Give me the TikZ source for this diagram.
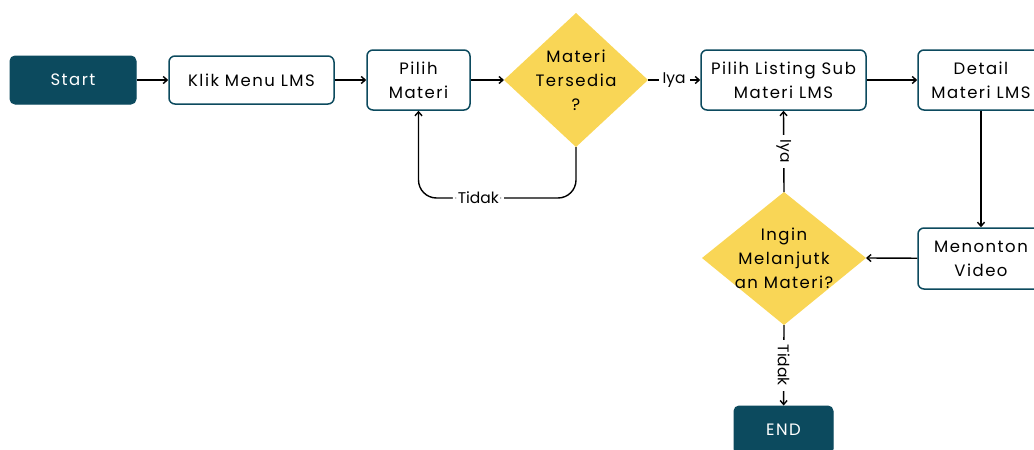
\documentclass[tikz,border=0pt]{standalone}
\usepackage{fontspec}
\setmainfont{Poppins}[LetterSpace=9]
\newfontfamily\labelfont{Poppins}
\usetikzlibrary{arrows.meta}
\definecolor{teal}{HTML}{0C4A5E}
\definecolor{gold}{HTML}{F9D656}
\begin{document}
\begin{tikzpicture}[x=1pt,y=-1pt,
  every node/.style={font=\fontsize{16.5}{24}\selectfont},
  darkbox/.style={draw=teal,fill=teal,text=white,rounded corners=5pt,line width=1pt},
  whitebox/.style={draw=teal,fill=white,line width=1.5pt,rounded corners=6pt,align=center},
  decision/.style={fill=gold},
  flow/.style={line width=1.4pt,-{Straight Barb[length=4pt,width=7pt]}},
  lbl/.style={fill=white,inner sep=2pt,font=\labelfont\fontsize{15.5}{18}\selectfont}]
\useasboundingbox (0,0) rectangle (1034,450);
\begin{scope}
\clip (0,0) rectangle (1034,450);
% process boxes
\node[darkbox,minimum width=126pt,minimum height=48pt] (start) at (73,80) {Start};
\node[whitebox,minimum width=165pt,minimum height=48pt] (klik) at (251.5,80) {Klik Menu LMS};
\node[whitebox,minimum width=103pt,minimum height=60pt] (pilih) at (418.5,80) {Pilih\\Materi};
\node[whitebox,minimum width=165pt,minimum height=60pt] (listing) at (783.5,80) {Pilih Listing Sub\\Materi LMS};
\node[whitebox,minimum width=126pt,minimum height=60pt] (detail) at (981,80) {Detail\\Materi LMS};
\node[whitebox,minimum width=126pt,minimum height=61pt] (video) at (981,258.5) {Menonton\\Video};
\node[darkbox,minimum width=99pt,minimum height=48pt] (end) at (783.5,430) {END};
% first decision
\coordinate (d1n) at (576,13);
\coordinate (d1e) at (648,80);
\coordinate (d1s) at (576,147);
\coordinate (d1w) at (504,80);
\fill[decision] (d1n) -- (d1e) -- (d1s) -- (d1w) -- cycle;
\node[align=center] (d1) at (576,80) {Materi\\Tersedia\\?};
% second decision
\coordinate (d2n) at (784,192);
\coordinate (d2e) at (866,258);
\coordinate (d2s) at (784,325);
\coordinate (d2w) at (702,258);
\fill[decision] (d2n) -- (d2e) -- (d2s) -- (d2w) -- cycle;
\node[align=center] (d2) at (784,258) {Ingin\\Melanjutk\\an Materi?};
% connectors
\draw[flow] (start) -- (klik);
\draw[flow] (klik) -- (pilih);
\draw[flow] (pilih) -- (d1w);
\draw[flow] (d1e) -- node[lbl,inner xsep=4pt] {Iya} (listing);
\draw[flow,rounded corners=18pt] (d1s) -- (576,198) -- node[lbl,pos=0.62,inner xsep=5pt] {Tidak} (pilih.south |- 0,198) -- (pilih.south);
\draw[flow] (listing) -- (detail);
\draw[flow] (detail) -- (video);
\draw[flow] (video) -- (d2e);
\draw[flow] (d2n) -- node[lbl,rotate=-90,inner xsep=5pt] {Iya} (listing.south);
\draw[flow] (d2s) -- node[lbl,rotate=-90,inner xsep=5pt] {Tidak} (end);
\end{scope}
\end{tikzpicture}
\end{document}
